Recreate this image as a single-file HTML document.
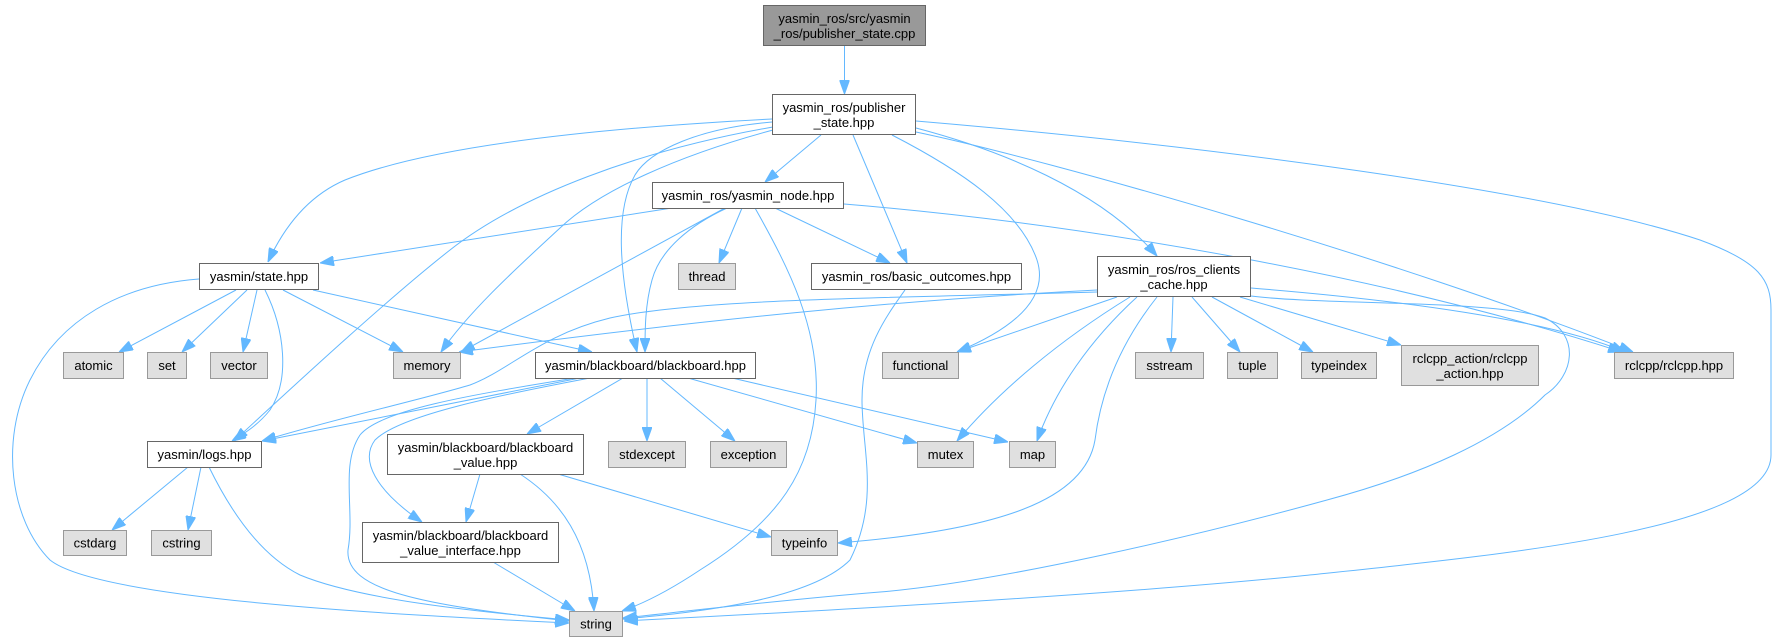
<!DOCTYPE html>
<html><head><meta charset="utf-8"><style>
html,body{margin:0;padding:0;background:#fff;}
svg{display:block;}
text{font-family:"Liberation Sans",Arial,Helvetica,sans-serif;font-size:13px;fill:#000;text-anchor:middle;}
.w{fill:#fff;stroke:#666;stroke-width:1;}
.g{fill:#e0e0e0;stroke:#999;stroke-width:1;}
.r{fill:#999;stroke:#666;stroke-width:1;}
.e{fill:none;stroke:#63b8ff;stroke-width:1;marker-end:url(#a);}
</style></head><body>
<svg width="1777" height="642" viewBox="0 0 1777 642" xmlns="http://www.w3.org/2000/svg">
<defs>
<marker id="a" markerUnits="userSpaceOnUse" viewBox="0 0 14 10" refX="14" refY="5" markerWidth="14" markerHeight="10" orient="auto">
<path d="M0,0 L14,5 L0,10 z" fill="#63b8ff" stroke="#63b8ff" stroke-width="1"/>
</marker>
</defs>
<g>
<path class="e" d="M844.5,46 L844.5,94"/>
<path class="e" d="M821,135 L765,182"/>
<path class="e" d="M853,135 L907,263"/>
<path class="e" d="M916,128 C 1000,150 1100,190 1157,256"/>
<path class="e" d="M892,135 C 960,170 1020,210 1037,260 C 1050,300 1010,330 957,352"/>
<path class="e" d="M916,132 C 1050,160 1400,260 1633,352"/>
<path class="e" d="M916,121 C 1200,145 1550,190 1700,240 C 1760,262 1771,280 1771,310 L1771,455 C 1771,530 1500,555 1300,576 C 1100,596 800,612 624,621"/>
<path class="e" d="M772,119 C 560,130 420,150 345,180 C 310,195 285,225 268,262"/>
<path class="e" d="M773,127 C 640,150 520,195 450,250 C 390,297 300,380 234,441"/>
<path class="e" d="M773,130 C 680,155 600,190 560,228 C 520,265 470,310 441,352"/>
<path class="e" d="M772,122 C 700,128 650,150 635,175 C 615,210 618,270 637,352"/>
<path class="e" d="M672,208 L320,263"/>
<path class="e" d="M725,208 L461,352"/>
<path class="e" d="M727,208 C 690,225 660,250 652,280 C 645,305 645,330 645,352"/>
<path class="e" d="M742,208 L719,263"/>
<path class="e" d="M755,208 C 790,270 820,330 816,400 C 812,470 780,520 700,570 C 670,590 645,603 622,611"/>
<path class="e" d="M775,208 L890,263"/>
<path class="e" d="M844,204 C 1100,225 1400,280 1622,352"/>
<path class="e" d="M905,290 C 885,318 862,350 862,400 C 862,450 880,500 850,560 C 810,600 700,612 623,619"/>
<path class="e" d="M236,290 L119,352"/>
<path class="e" d="M247,290 L182,352"/>
<path class="e" d="M257,290 L243,352"/>
<path class="e" d="M265,290 C 285,330 290,380 270,410 C 258,425 245,433 232,441"/>
<path class="e" d="M283,290 L403,352"/>
<path class="e" d="M313,290 L592,352"/>
<path class="e" d="M199,279 C 120,285 60,320 30,380 C 0,440 10,520 50,560 C 100,600 400,615 569,623"/>
<path class="e" d="M188,467 L112,530"/>
<path class="e" d="M201,467 L188,530"/>
<path class="e" d="M209,467 C 230,510 260,555 300,575 C 360,600 480,612 569,620"/>
<path class="e" d="M580,378 L262,441"/>
<path class="e" d="M623,378 L527,434"/>
<path class="e" d="M647,378 L647,441"/>
<path class="e" d="M660,378 L735,441"/>
<path class="e" d="M688,378 L917,443"/>
<path class="e" d="M732,378 L1008,442"/>
<path class="e" d="M590,378 C 500,395 400,415 375,440 C 360,460 375,490 422,522"/>
<path class="e" d="M575,378 C 470,395 380,410 360,435 C 340,465 355,510 348,550 C 345,590 420,605 569,621"/>
<path class="e" d="M480,474 L466,522"/>
<path class="e" d="M520,474 C 560,500 590,540 594,611"/>
<path class="e" d="M558,474 L771,537"/>
<path class="e" d="M493,562 L575,611"/>
<path class="e" d="M1097,290 C 900,300 700,320 459,352"/>
<path class="e" d="M1097,292 C 900,298 700,298 610,318 C 540,335 510,370 470,385 C 420,400 330,420 262,441"/>
<path class="e" d="M1117,297 L957,352"/>
<path class="e" d="M1130,297 C 1060,340 1000,390 957,441"/>
<path class="e" d="M1137,297 C 1090,340 1055,390 1037,441"/>
<path class="e" d="M1157,297 C 1115,350 1100,400 1095,440 C 1085,500 1000,530 838,543"/>
<path class="e" d="M1173,297 L1171,352"/>
<path class="e" d="M1192,297 L1240,352"/>
<path class="e" d="M1212,297 L1313,352"/>
<path class="e" d="M1240,297 L1401,345"/>
<path class="e" d="M1251,288 C 1400,300 1550,320 1625,352"/>
<path class="e" d="M1251,296 C 1320,305 1500,300 1545,318 C 1580,335 1575,375 1545,395 C 1500,440 1420,475 1327,500 C 1200,535 1000,582 880,592 C 780,600 680,612 623,618"/>
</g>
<g>
<rect class="r" x="763.5" y="5.5" width="162" height="40"/>
<text x="844.5" y="23">yasmin_ros/src/yasmin</text>
<text x="844.5" y="38">_ros/publisher_state.cpp</text>

<rect class="w" x="772.5" y="94.5" width="143" height="40"/>
<text x="844" y="112">yasmin_ros/publisher</text>
<text x="844" y="127">_state.hpp</text>

<rect class="w" x="652.5" y="182.5" width="191" height="26"/>
<text x="748" y="200">yasmin_ros/yasmin_node.hpp</text>

<rect class="w" x="199.5" y="263.5" width="119" height="26"/>
<text x="259" y="281">yasmin/state.hpp</text>

<rect class="g" x="678.5" y="263.5" width="57" height="26"/>
<text x="707" y="281">thread</text>

<rect class="w" x="811.5" y="263.5" width="210" height="26"/>
<text x="916.5" y="281">yasmin_ros/basic_outcomes.hpp</text>

<rect class="w" x="1097.5" y="256.5" width="153" height="40"/>
<text x="1174" y="274">yasmin_ros/ros_clients</text>
<text x="1174" y="289">_cache.hpp</text>

<rect class="g" x="63.5" y="352.5" width="60" height="26"/>
<text x="93.5" y="370">atomic</text>

<rect class="g" x="147.5" y="352.5" width="39" height="26"/>
<text x="167" y="370">set</text>

<rect class="g" x="210.5" y="352.5" width="57" height="26"/>
<text x="239" y="370">vector</text>

<rect class="g" x="393.5" y="352.5" width="67" height="26"/>
<text x="427" y="370">memory</text>

<rect class="w" x="535.5" y="352.5" width="220" height="26"/>
<text x="645.5" y="370">yasmin/blackboard/blackboard.hpp</text>

<rect class="g" x="882.5" y="352.5" width="76" height="26"/>
<text x="920.5" y="370">functional</text>

<rect class="g" x="1135.5" y="352.5" width="68" height="26"/>
<text x="1169.5" y="370">sstream</text>

<rect class="g" x="1227.5" y="352.5" width="50" height="26"/>
<text x="1252.5" y="370">tuple</text>

<rect class="g" x="1301.5" y="352.5" width="75" height="26"/>
<text x="1339" y="370">typeindex</text>

<rect class="g" x="1401.5" y="345.5" width="137" height="40"/>
<text x="1470" y="363">rclcpp_action/rclcpp</text>
<text x="1470" y="378">_action.hpp</text>

<rect class="g" x="1614.5" y="352.5" width="119" height="26"/>
<text x="1674" y="370">rclcpp/rclcpp.hpp</text>

<rect class="w" x="147.5" y="441.5" width="114" height="26"/>
<text x="204.5" y="459">yasmin/logs.hpp</text>

<rect class="w" x="387.5" y="434.5" width="196" height="40"/>
<text x="485.5" y="452">yasmin/blackboard/blackboard</text>
<text x="485.5" y="467">_value.hpp</text>

<rect class="g" x="608.5" y="441.5" width="77" height="26"/>
<text x="647" y="459">stdexcept</text>

<rect class="g" x="710.5" y="441.5" width="76" height="26"/>
<text x="748.5" y="459">exception</text>

<rect class="g" x="917.5" y="441.5" width="56" height="26"/>
<text x="945.5" y="459">mutex</text>

<rect class="g" x="1009.5" y="441.5" width="46" height="26"/>
<text x="1032.5" y="459">map</text>

<rect class="g" x="63.5" y="530.5" width="63" height="25"/>
<text x="95" y="547.5">cstdarg</text>

<rect class="g" x="151.5" y="530.5" width="60" height="25"/>
<text x="181.5" y="547.5">cstring</text>

<rect class="w" x="362.5" y="522.5" width="196" height="40"/>
<text x="460.5" y="540">yasmin/blackboard/blackboard</text>
<text x="460.5" y="555">_value_interface.hpp</text>

<rect class="g" x="771.5" y="530.5" width="66" height="25"/>
<text x="804.5" y="547.5">typeinfo</text>

<rect class="g" x="569.5" y="611.5" width="53" height="25"/>
<text x="596" y="628.5">string</text>
</g>
</svg>
</body></html>
